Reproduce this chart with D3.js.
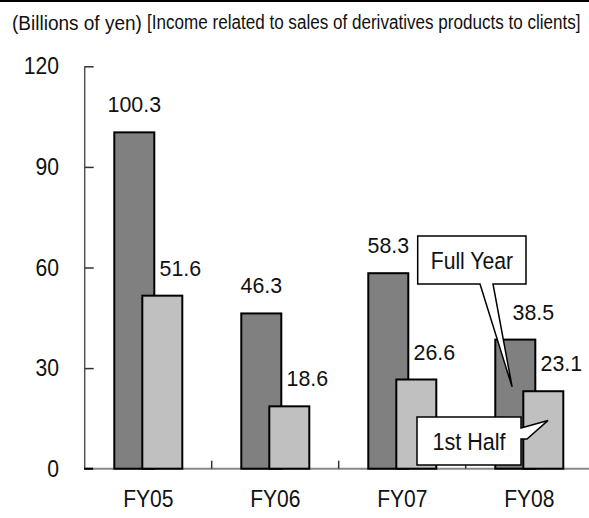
<!DOCTYPE html>
<html><head><meta charset="utf-8">
<script src="https://cdn.jsdelivr.net/npm/d3@7"></script>
<style>body{margin:0;background:#fff}svg{display:block}text{font-family:"Liberation Sans",Arial,sans-serif;fill:#111}</style>
</head><body>
<svg id="c" width="589" height="518"></svg>
<script>
const categories = ["FY05","FY06","FY07","FY08"];
const fullYear = [100.3, 46.3, 58.3, 38.5];
const firstHalf = [51.6, 18.6, 26.6, 23.1];
const yTicks = [0, 30, 60, 90, 120];
const unitLabel = "(Billions of yen)";
const titleLabel = "[Income related to sales of derivatives products to clients]";
const seriesNames = ["Full Year", "1st Half"];

const svg = d3.select("#c");
const x = d3.scaleBand().domain(categories).range([84.7, 592.7]).paddingInner(0).paddingOuter(0);
const y = d3.scaleLinear().domain([0,120]).range([468.7, 66.3]);
const bw = x.bandwidth();
const barW = bw*0.315, darkOff = bw*0.233, lightOff = bw*0.4535;

function ctext(g, px, py, str, size, k, anchor){
  return g.append("text").attr("transform",`translate(${px},${py}) scale(${k},1)`)
    .attr("text-anchor",anchor||"start").attr("font-size",size).text(str);
}
// text fitted to a given width through a horizontal scale
function fitText(g, px, py, str, size, width){
  const t = g.append("text").attr("font-size",size).text(str);
  const w = t.node().getComputedTextLength();
  t.attr("transform",`translate(${px},${py}) scale(${width/w},1)`);
  return t;
}

svg.append("line").attr("x1",0).attr("x2",589).attr("y1",1).attr("y2",1).attr("stroke","#000").attr("stroke-width",2);
fitText(svg, 12, 30, unitLabel, 21, 130);
fitText(svg, 147, 29, titleLabel, 21, 434);

const yAxis = d3.axisRight(y).tickValues(yTicks).tickSize(9).tickFormat("");
const gy = svg.append("g").attr("transform","translate(84.7,0)").call(yAxis);
gy.select(".domain").attr("stroke","#555").attr("stroke-width",1.5).attr("d",`M0,${y(120)}V${y(0)}`);
gy.selectAll(".tick line").attr("stroke","#333").attr("stroke-width",1.5);
yTicks.forEach(d=>ctext(svg, 59, y(d)+8, d, 23, 0.92, "end"));

svg.append("line").attr("x1",84.7).attr("x2",589).attr("y1",y(0)).attr("y2",y(0)).attr("stroke","#888").attr("stroke-width",2);
svg.append("line").attr("x1",84).attr("x2",93).attr("y1",y(0)).attr("y2",y(0)).attr("stroke","#000").attr("stroke-width",2);
svg.selectAll(".ctick").data(categories.slice(1)).join("line").attr("class","ctick")
  .attr("x1",d=>x(d)).attr("x2",d=>x(d)).attr("y1",y(0)-8).attr("y2",y(0)).attr("stroke","#333").attr("stroke-width",1.5);
categories.forEach(c=>ctext(svg, x(c)+darkOff+barW*0.85, 507, c, 24.5, 0.86, "middle"));

const rows = categories.map((c,i)=>({c, full:fullYear[i], half:firstHalf[i]}));
svg.selectAll(".bd").data(rows).join("rect").attr("class","bd")
  .attr("x",d=>x(d.c)+darkOff).attr("width",barW).attr("y",d=>y(d.full)).attr("height",d=>y(0)-y(d.full))
  .attr("fill","#808080").attr("stroke","#000").attr("stroke-width",2);
svg.selectAll(".bl").data(rows).join("rect").attr("class","bl")
  .attr("x",d=>x(d.c)+lightOff).attr("width",barW).attr("y",d=>y(d.half)).attr("height",d=>y(0)-y(d.half))
  .attr("fill","#c0c0c0").attr("stroke","#000").attr("stroke-width",2);

const nudge = {FY08: 18};
rows.forEach(d=>{
  ctext(svg, x(d.c)+darkOff+barW/2+(nudge[d.c]||0), y(d.full)-20, d.full.toFixed(1), 23, 0.93, "middle");
  ctext(svg, x(d.c)+lightOff+barW/2+18, y(d.half)-20, d.half.toFixed(1), 23, 0.93, "middle");
});

const c8 = x("FY08");
const fy = {l:417.7, r:526, t:236, b:284};
const tipF = [c8+darkOff+barW*0.42, y(24.4)];
svg.append("path").attr("d",`M${fy.l},${fy.t}H${fy.r}V${fy.b}H493L${tipF[0]},${tipF[1]}L480,${fy.b}H${fy.l}Z`)
  .attr("fill","#fff").attr("stroke","#000").attr("stroke-width",1.5);
ctext(svg, (fy.l+fy.r)/2, 269, seriesNames[0], 23.5, 0.9, "middle");
const hb = {l:417, r:521, t:417, b:465};
const tipH = [c8+lightOff+barW*0.62, y(14.4)];
svg.append("path").attr("d",`M${hb.l},${hb.t}H${hb.r}V428L${tipH[0]},${tipH[1]}L${hb.r+6},439H${hb.r}V${hb.b}H${hb.l}Z`)
  .attr("fill","#fff").attr("stroke","#000").attr("stroke-width",1.5);
ctext(svg, (hb.l+hb.r)/2, 450, seriesNames[1], 23.5, 0.92, "middle");
</script>
</body></html>
